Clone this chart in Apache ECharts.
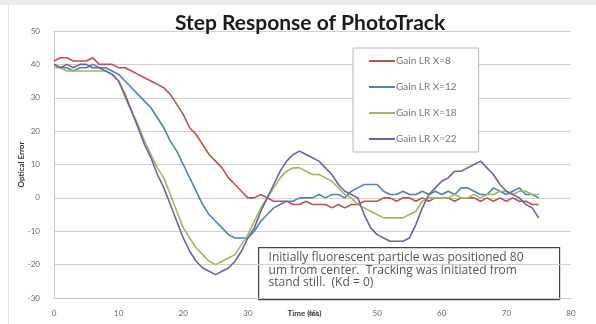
<!DOCTYPE html>
<html>
<head>
<meta charset="utf-8">
<script src="https://cdn.jsdelivr.net/npm/echarts@6/dist/echarts.min.js"></script>
<style>
  html, body { margin: 0; padding: 0; background: #ffffff; }
  #chart { width: 596px; height: 324px; }
</style>
</head>
<body>
<div id="chart"></div>
<script>
// Time axis in milliseconds, one sample per ms
const timeMs = [];
for (let t = 0; t <= 75; t++) timeMs.push(t);

const seriesNames = ['Gain LR X=8', 'Gain LR X=12', 'Gain LR X=18', 'Gain LR X=22'];
const seriesColors = ['#c0504d', '#4f81bd', '#9bbb59', '#7460a0'];

// Optical error readings for each gain setting
const gainX8 = [41, 42, 42, 41, 41, 41, 42, 40, 40, 40, 39, 39, 38, 37, 36, 35, 34, 33, 31, 28,
  25, 21, 19, 16, 13, 11, 9, 6, 4, 2, 0, 0, 1, 0, -1, -1, -1, -2, -2, -1,
  -2, -2, -2, -3, -2, -3, -2, -2, -1, -1, -1, 0, 0, -1, 0, 0, -1, 0, -1, 0,
  0, 0, -1, 0, 0, 0, -1, 0, -1, 0, -1, 0, -1, -1, -2, -2];

const gainX12 = [40, 39, 39, 38, 39, 39, 40, 39, 39, 38, 37, 35, 33, 31, 29, 27, 24, 21, 17, 14,
  10, 6, 2, -2, -5, -7, -9, -11, -12, -12, -12, -10, -7, -5, -3, -2, -1, -1, 0, 0,
  0, 1, 0, 1, 1, 0, 2, 3, 4, 4, 4, 2, 1, 1, 2, 1, 1, 2, 1, 2,
  1, 2, 1, 3, 3, 2, 1, 1, 3, 2, 1, 2, 3, 1, 1, 0];

const gainX18 = [39, 39, 38, 38, 38, 38, 38, 38, 38, 37, 35, 30, 26, 22, 17, 13, 9, 6, 1, -4,
  -9, -12, -15, -17, -19, -20, -19, -18, -17, -14, -11, -7, -3, 0, 3, 6, 8, 9, 9, 8,
  7, 7, 6, 5, 3, 1, 0, -2, -3, -4, -5, -6, -6, -6, -6, -5, -4, -1, 0, 0,
  0, 0, 1, 0, 0, 1, 0, 1, 1, 2, 2, 1, 2, 2, 1, 1];

const gainX22 = [40, 39, 40, 39, 40, 40, 39, 39, 38, 37, 35, 31, 26, 21, 16, 12, 7, 3, -2, -7,
  -12, -16, -19, -21, -22, -23, -22, -21, -19, -16, -12, -9, -4, 0, 4, 8, 11, 13, 14, 13,
  12, 11, 9, 7, 4, 2, 1, 0, -5, -9, -11, -12, -13, -13, -13, -12, -8, -3, 1, 3,
  5, 6, 8, 8, 9, 10, 11, 9, 7, 4, 2, 1, 0, -2, -3, -6];

const seriesValues = [gainX8, gainX12, gainX18, gainX22];

const yTicks = { min: -30, max: 50, interval: 10 };
const xTicks = { min: 0, max: 80, interval: 10 };

const font = 'Lato, "Open Sans", sans-serif';

const chart = echarts.init(document.getElementById('chart'), null, { renderer: 'canvas' });

chart.setOption({
  backgroundColor: '#ffffff',
  animation: false,
  title: {
    text: 'Step Response of PhotoTrack',
    left: 170,
    top: 8,
    textStyle: { fontFamily: font, fontSize: 21, fontWeight: 'bold', color: '#1a1a1a' }
  },
  grid: { left: 54, right: 25, top: 31, bottom: 26, outerBoundsMode: 'none', containLabel: false },
  xAxis: {
    type: 'value',
    min: xTicks.min, max: xTicks.max, interval: xTicks.interval,
    name: 'Time (ms)',
    nameLocation: 'middle',
    nameGap: 11,
    nameMoveOverlap: false,
    nameTextStyle: { fontFamily: font, fontSize: 8, fontWeight: 'bold', color: '#333', padding: [0, 16, 0, 0] },
    axisLine: { show: true, onZero: false, lineStyle: { color: '#c8c8c8' } },
    axisTick: { show: false },
    splitLine: { show: false },
    axisLabel: { fontFamily: font, fontSize: 8, color: '#666', margin: 11 }
  },
  yAxis: {
    type: 'value',
    min: yTicks.min, max: yTicks.max, interval: yTicks.interval,
    name: 'Optical Error',
    nameLocation: 'middle',
    nameGap: 29,
    nameMoveOverlap: false,
    nameTextStyle: { fontFamily: font, fontSize: 8, fontWeight: 'bold', color: '#333' },
    axisLine: { show: true, lineStyle: { color: '#c8c8c8' } },
    axisTick: { show: false },
    splitLine: { show: true, lineStyle: { color: '#d0d0d0', width: 1 } },
    axisLabel: { fontFamily: font, fontSize: 8, color: '#666', margin: 14 }
  },
  legend: {
    orient: 'vertical',
    left: 353,
    top: 48,
    padding: [8, 22, 8, 16],
    itemGap: 16,
    itemWidth: 26,
    itemHeight: 2,
    icon: 'rect',
    borderColor: '#b8b8b8',
    borderWidth: 1,
    backgroundColor: '#ffffff',
    data: seriesNames,
    textStyle: { fontFamily: font, fontSize: 10, color: '#777', padding: [0, 0, 0, -4] }
  },
  series: seriesNames.map((name, i) => ({
    name: name,
    type: 'line',
    data: timeMs.map((t, k) => [t, seriesValues[i][k]]),
    symbol: 'none',
    showSymbol: false,
    lineStyle: { color: seriesColors[i], width: 1.6 },
    itemStyle: { color: seriesColors[i] },
    z: 2 + i
  })),
  graphic: [
    { type: 'rect', shape: { x: 0, y: 0, width: 596, height: 5 }, style: { fill: '#ececec' }, silent: true },
    { type: 'line', shape: { x1: 8.5, y1: 5, x2: 8.5, y2: 324 }, style: { stroke: '#e2e2e2', lineWidth: 1 }, silent: true },
    {
      type: 'group',
      left: 258,
      top: 247,
      z: 100,
      children: [
        { type: 'rect', shape: { x: 0, y: 0, width: 301, height: 52 },
          style: { fill: '#ffffff', stroke: '#444', lineWidth: 1.2 } },
        { type: 'text', x: 10, y: 4,
          style: {
            text: 'Initially fluorescent particle was positioned 80\num from center.  Tracking was initiated from\nstand still.  (Kd = 0)',
            font: '12px "Open Sans", sans-serif',
            fill: '#555',
            lineHeight: 12.5
          } }
      ]
    }
  ]
});
</script>
</body>
</html>
